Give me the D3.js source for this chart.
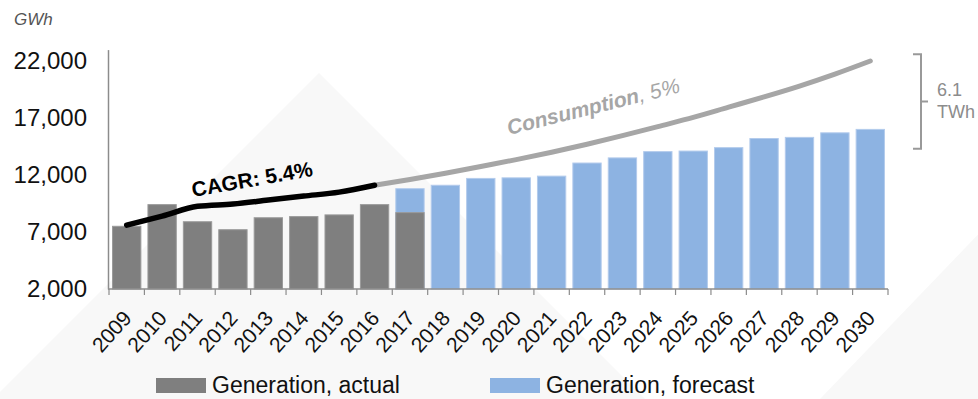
<!DOCTYPE html>
<html>
<head>
<meta charset="utf-8">
<script src="https://cdn.jsdelivr.net/npm/d3@7"></script>
<style>
  body { margin: 0; background: #fff; }
  svg { display: block; }
  text { font-family: "Liberation Sans", Arial, Helvetica, sans-serif; }
</style>
</head>
<body>
<svg id="chart" width="978" height="399"></svg>
<script>
// Electricity generation (actual / forecast) and consumption, GWh
const years = ["2009","2010","2011","2012","2013","2014","2015","2016","2017","2018","2019",
               "2020","2021","2022","2023","2024","2025","2026","2027","2028","2029","2030"];

const actualYears  = ["2009","2010","2011","2012","2013","2014","2015","2016","2017"];
const actualValues = [7500, 9400, 7900, 7200, 8250, 8350, 8500, 9400, 8700];

const forecastYears  = ["2017","2018","2019","2020","2021","2022","2023","2024","2025","2026","2027","2028","2029","2030"];
const forecastValues = [10800, 11100, 11700, 11750, 11900, 13050, 13500, 14050, 14100, 14400, 15200, 15300, 15700, 16000];

// historic consumption (CAGR 5.4%)
const cagrYears  = ["2009","2010","2011","2012","2013","2014","2015","2016"];
const cagrValues = [7600, 8400, 9250, 9450, 9800, 10150, 10500, 11100];

// projected consumption (5% p.a.)
const consumptionYears  = ["2016","2017","2018","2019","2020","2021","2022","2023","2024","2025","2026","2027","2028","2029","2030"];
const consumptionValues = [11100, 11600, 12150, 12750, 13350, 14000, 14700, 15450, 16250, 17050, 17950, 18850, 19800, 20850, 22000];

const yTicks = [2000, 7000, 12000, 17000, 22000];

// gap between 2030 consumption and generation
const gapLabel = ["6.1", "TWh"];
const gapRange = [14300, 22600];

const svg = d3.select("#chart");

// faint background watermark
const bg = svg.append("g");
bg.append("polygon")
  .attr("points", "319,73 -40,432 678,432")
  .attr("fill", "#f8f8f8");
bg.append("polygon")
  .attr("points", "1040,170 820,399 1100,399")
  .attr("fill", "#f8f8f8");

const x = d3.scaleBand().domain(years).range([109, 888]).paddingInner(0.2).paddingOuter(0.1);
const y = d3.scaleLinear().domain([2000, 23000]).range([289, 49.6]);
const step = x.step();
const cx = d => x(d) + x.bandwidth() / 2;

// forecast bars (behind), then actual bars
svg.append("g").selectAll("rect")
  .data(forecastYears.map((d, i) => ({ year: d, v: forecastValues[i] })))
  .join("rect")
  .attr("x", d => x(d.year))
  .attr("width", x.bandwidth())
  .attr("y", d => y(d.v))
  .attr("height", d => y(2000) - y(d.v))
  .attr("fill", "#8db3e2")
  .attr("stroke", "#b3cbec")
  .attr("stroke-width", 1);

svg.append("g").selectAll("rect")
  .data(actualYears.map((d, i) => ({ year: d, v: actualValues[i] })))
  .join("rect")
  .attr("x", d => x(d.year))
  .attr("width", x.bandwidth())
  .attr("y", d => y(d.v))
  .attr("height", d => y(2000) - y(d.v))
  .attr("fill", "#7f7f7f")
  .attr("stroke", "#9a9a9a")
  .attr("stroke-width", 1);

// y axis (line + labels, no tick marks)
const yAxis = svg.append("g")
  .attr("transform", "translate(108,0)")
  .call(d3.axisLeft(y).tickValues(yTicks).tickSize(0).tickPadding(21).tickFormat(d3.format(",")));
yAxis.select(".domain").attr("stroke", "#8c8c8c").attr("stroke-width", 1.5);
yAxis.selectAll("text")
  .attr("font-size", 24)
  .attr("fill", "#111")
  .style("font-family", "'Liberation Sans', Arial, sans-serif");

svg.append("text")
  .attr("x", 14).attr("y", 25)
  .attr("font-size", 17).attr("font-style", "italic")
  .attr("fill", "#555")
  .text("GWh");

// x axis line and boundary ticks
const xAxis = svg.append("g");
xAxis.append("line")
  .attr("x1", 108).attr("x2", x.range()[1])
  .attr("y1", y(2000)).attr("y2", y(2000))
  .attr("stroke", "#8c8c8c").attr("stroke-width", 1.5);
const bounds = years.map(d => x(d) - step * x.paddingOuter()).concat([x.range()[1]]);
xAxis.selectAll("line.tick")
  .data(bounds)
  .join("line")
  .attr("class", "tick")
  .attr("x1", d => d).attr("x2", d => d)
  .attr("y1", y(2000)).attr("y2", y(2000) + 6)
  .attr("stroke", "#8c8c8c").attr("stroke-width", 1.2);
xAxis.selectAll("text")
  .data(years)
  .join("text")
  .attr("transform", d => `translate(${cx(d) + 6},${y(2000) + 30}) rotate(-48)`)
  .attr("text-anchor", "end")
  .attr("font-size", 21)
  .attr("fill", "#111")
  .text(d => d);

// consumption lines
const line = d3.line().x(d => cx(d.year)).y(d => y(d.v)).curve(d3.curveMonotoneX);

svg.append("path")
  .datum(consumptionYears.map((d, i) => ({ year: d, v: consumptionValues[i] })))
  .attr("d", line)
  .attr("fill", "none")
  .attr("stroke", "#a6a6a6")
  .attr("stroke-width", 5)
  .attr("stroke-linecap", "round");

svg.append("path")
  .datum(cagrYears.map((d, i) => ({ year: d, v: cagrValues[i] })))
  .attr("d", line)
  .attr("fill", "none")
  .attr("stroke", "#000")
  .attr("stroke-width", 5.5)
  .attr("stroke-linecap", "round")
  .attr("stroke-linejoin", "round");

// line annotations
svg.append("text")
  .attr("transform", "translate(193,197) rotate(-10)")
  .attr("font-size", 21).attr("font-weight", "bold")
  .attr("fill", "#000")
  .text("CAGR: 5.4%");

const cons = svg.append("text")
  .attr("transform", "translate(509,135) rotate(-14)")
  .attr("font-size", 21)
  .attr("fill", "#a6a6a6");
cons.append("tspan").attr("font-weight", "bold").attr("font-style", "italic").text("Consumption");
cons.append("tspan").attr("font-style", "italic").text(", 5%");

// bracket showing the 2030 gap
const bx = 921;
const bTop = y(gapRange[1]), bBot = y(gapRange[0]), bMid = (bTop + bBot) / 2;
svg.append("path")
  .attr("d", `M${bx - 8},${bTop} H${bx} V${bBot} H${bx - 8} M${bx},${bMid} H${bx + 7}`)
  .attr("fill", "none")
  .attr("stroke", "#999")
  .attr("stroke-width", 2);
svg.append("g").selectAll("text")
  .data(gapLabel)
  .join("text")
  .attr("x", 937)
  .attr("y", (d, i) => bMid - 5 + i * 22)
  .attr("font-size", 18)
  .attr("fill", "#8c8c8c")
  .text(d => d);

// legend
const legend = [
  { label: "Generation, actual", color: "#7f7f7f", x: 156 },
  { label: "Generation, forecast", color: "#8db3e2", x: 490 }
];
const lg = svg.append("g").selectAll("g").data(legend).join("g")
  .attr("transform", d => `translate(${d.x},378)`);
lg.append("rect").attr("width", 50).attr("height", 15).attr("fill", d => d.color);
lg.append("text").attr("x", 56).attr("y", 15)
  .attr("font-size", 23).attr("fill", "#111")
  .text(d => d.label);
</script>
</body>
</html>
